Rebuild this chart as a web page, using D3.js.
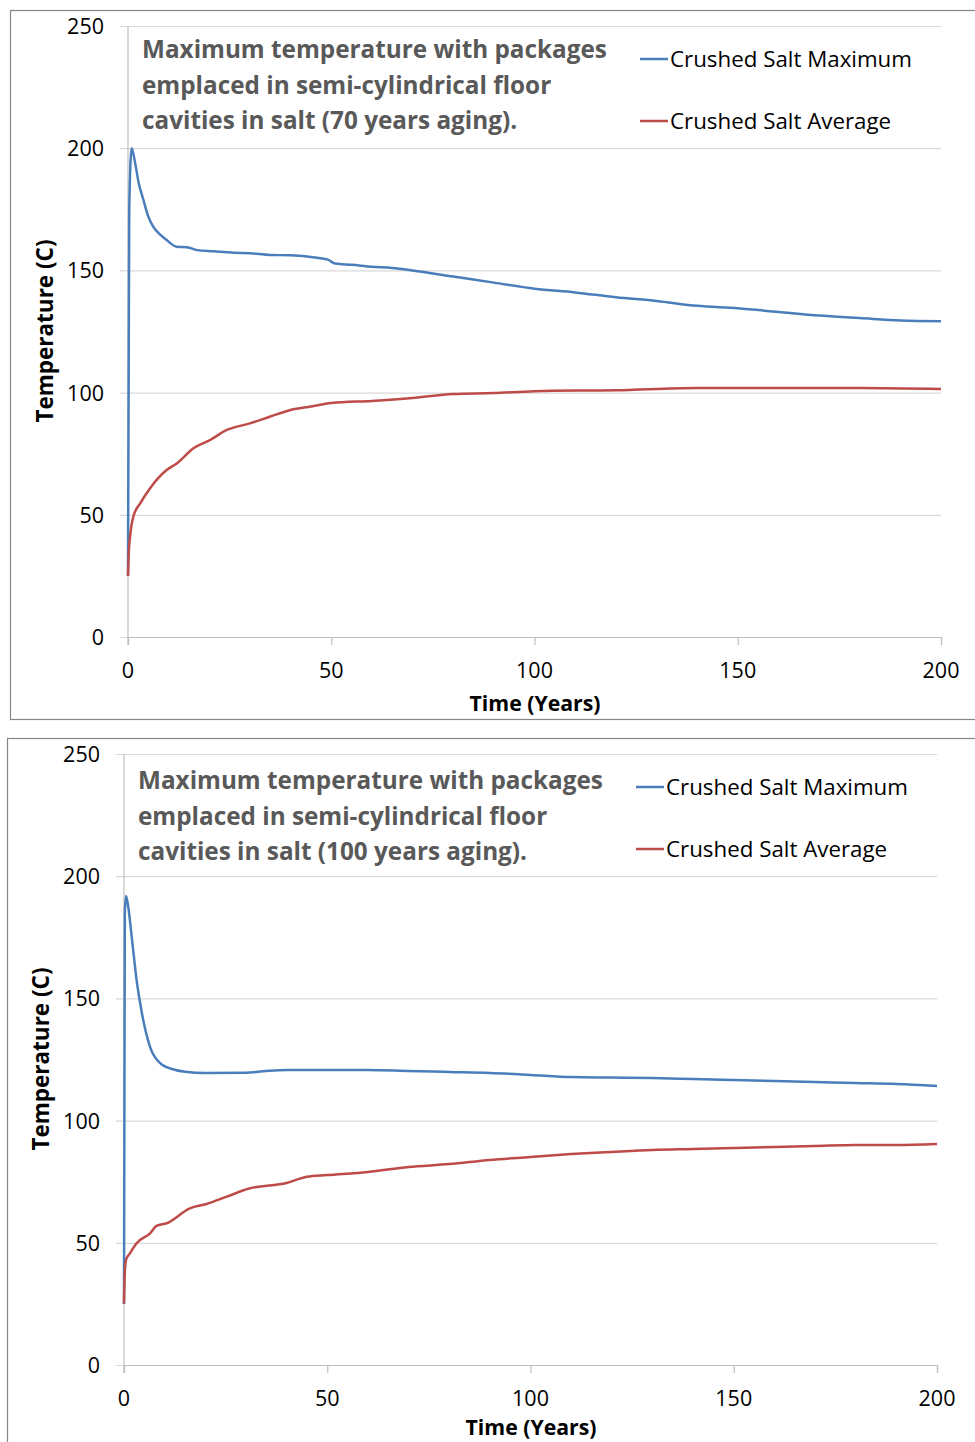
<!DOCTYPE html>
<html>
<head>
<meta charset="utf-8">
<script src="https://cdn.jsdelivr.net/npm/d3@7"></script>
<style>
  html, body { margin: 0; padding: 0; background: #ffffff; }
  svg { display: block; }
</style>
</head>
<body>
<svg id="chart" width="975" height="1442"></svg>
<script>
// ---------- DATA ----------
const yTicks = [0, 50, 100, 150, 200, 250];
const xTicks = [0, 50, 100, 150, 200];
const seriesNames = ["Crushed Salt Maximum", "Crushed Salt Average"];
const xTitle = "Time (Years)";
const yTitle = "Temperature (C)";
const titles = [
  ["Maximum temperature with packages", "emplaced in semi-cylindrical floor", "cavities in salt (70 years aging)."],
  ["Maximum temperature with packages", "emplaced in semi-cylindrical floor", "cavities in salt (100 years aging)."]
];

// 70 years aging
const max70Time = [0, 0.3, 0.9, 1.7, 2.6, 3.8, 5, 6.2, 8, 9.5, 12, 14.5, 17, 21, 26, 30, 35, 40, 45, 49, 51, 55, 60, 65, 70, 80, 90, 100, 110, 120, 130, 140, 150, 160, 170, 180, 190, 200];
const max70Temp = [25, 175, 200, 194.5, 186, 178.8, 172, 167.9, 164.5, 162.4, 159.7, 159.5, 158.3, 157.8, 157.2, 157, 156.3, 156.2, 155.5, 154.5, 152.8, 152.3, 151.5, 151, 150, 147.5, 145, 142.5, 141, 139, 137.5, 135.5, 134.5, 133, 131.5, 130.5, 129.5, 129.2];
const avg70Time = [0, 0.2, 0.5, 1.3, 3, 5.4, 9.5, 12, 16.1, 20.2, 24.3, 30, 35, 40, 45, 50, 60, 70, 80, 90, 100, 120, 140, 160, 180, 200];
const avg70Temp = [25, 35, 41, 49.2, 54.7, 60.8, 68.3, 71, 77.2, 80.6, 84.7, 87.4, 90.2, 92.9, 94.3, 95.7, 96.6, 97.8, 99.4, 99.8, 100.6, 101, 101.9, 101.9, 101.9, 101.5];

// 100 years aging
const max100Time = [0, 0.2, 0.5, 1, 1.9, 3.1, 4.4, 6.4, 8.9, 12, 15, 20, 30, 35, 40, 50, 60, 70, 80, 90, 100, 110, 120, 130, 140, 150, 160, 170, 180, 190, 200];
const max100Temp = [25, 185, 191.9, 188, 175.2, 157.5, 144, 130.2, 123.5, 121, 120, 119.5, 119.6, 120.3, 120.7, 120.7, 120.7, 120.3, 119.9, 119.5, 118.7, 117.8, 117.6, 117.4, 117, 116.6, 116.2, 115.8, 115.4, 115, 114.2];
const avg100Time = [0, 0.2, 0.5, 1.5, 3.1, 6.4, 8, 10.5, 16.2, 20.3, 25.3, 31, 40, 45, 50, 60, 70, 80, 90, 100, 110, 120, 130, 140, 150, 160, 170, 180, 190, 200];
const avg100Temp = [25.2, 38, 43, 45.8, 49.8, 53.9, 56.9, 58, 64.1, 65.9, 68.9, 72.3, 74.5, 77, 77.7, 79, 81, 82.2, 83.9, 85.1, 86.3, 87.2, 88, 88.4, 88.8, 89.2, 89.6, 90, 90, 90.4];

// ---------- DRAW ----------
const svg = d3.select("#chart");
const FONT = "'Open Sans', 'Liberation Sans', sans-serif";
const BLUE = "#4a7ebb";
const RED = "#be4b48";

function fit(sel, width) {
  const node = sel.node();
  const fs = parseFloat(sel.attr("font-size"));
  const w = node.getComputedTextLength();
  sel.attr("font-size", (fs * width / w).toFixed(2));
}

function drawChart(cfg) {
  const g = svg.append("g");
  // frame
  g.append("rect")
    .attr("x", cfg.frame[0] + 0.5).attr("y", cfg.frame[1] + 0.5)
    .attr("width", cfg.frame[2]).attr("height", cfg.frame[3])
    .attr("fill", "#fff").attr("stroke", "#868686").attr("stroke-width", 1.2);

  const x = d3.scaleLinear().domain([0, 200]).range([cfg.x0, cfg.x1]);
  const y = d3.scaleLinear().domain([0, 250]).range([cfg.y0, cfg.y1]);

  // gridlines
  const gy = g.append("g").attr("transform", `translate(${cfg.x1},0)`)
    .call(d3.axisLeft(y).tickValues(yTicks).tickSize(cfg.x1 - cfg.x0 + 8).tickFormat(""));
  gy.select(".domain").remove();
  gy.selectAll(".tick line").attr("stroke", "#d9d9d9").attr("stroke-width", 1.2);

  // y tick labels
  g.selectAll(".ylab").data(yTicks).enter().append("text")
    .attr("x", cfg.yLabX).attr("y", d => y(d) + 8)
    .attr("text-anchor", "end").attr("font-family", FONT).attr("font-size", 21.5)
    .attr("fill", "#000").text(d => d);

  // x axis
  const gx = g.append("g").attr("transform", `translate(0,${cfg.y0})`)
    .call(d3.axisBottom(x).tickValues(xTicks).tickSize(8).tickFormat(""));
  gx.select(".domain").attr("stroke", "#bfbfbf").attr("stroke-width", 1.2);
  gx.selectAll(".tick line").attr("stroke", "#bfbfbf").attr("stroke-width", 1.2);
  g.selectAll(".xlab").data(xTicks).enter().append("text")
    .attr("x", d => x(d)).attr("y", cfg.y0 + 41)
    .attr("text-anchor", "middle").attr("font-family", FONT).attr("font-size", 21.5)
    .attr("fill", "#000").text(d => d);

  // vertical axis line
  g.append("line").attr("x1", x(0)).attr("x2", x(0)).attr("y1", y(250)).attr("y2", y(0) + 8)
    .attr("stroke", "#bfbfbf").attr("stroke-width", 1.2);

  // axis titles
  const xt = g.append("text").attr("x", cfg.xTitleX).attr("y", cfg.y0 + cfg.xTitleDy)
    .attr("text-anchor", "middle").attr("font-family", FONT).attr("font-weight", "bold")
    .attr("font-size", 20).attr("fill", "#000").text(xTitle);
  fit(xt, 131);
  const yt = g.append("text")
    .attr("transform", `translate(${cfg.yTitleX},${cfg.yTitleY}) rotate(-90)`)
    .attr("text-anchor", "middle").attr("font-family", FONT).attr("font-weight", "bold")
    .attr("font-size", 20).attr("fill", "#000").text(yTitle);
  fit(yt, 183);

  // title
  cfg.title.forEach((t, i) => {
    const tt = g.append("text").attr("x", cfg.titleX).attr("y", cfg.titleY + i * 35.5)
      .attr("font-family", FONT).attr("font-weight", "bold").attr("font-size", 24)
      .attr("fill", "#595959").text(t);
    if (i === 0) fit(tt, 465);
    cfg._fs = cfg._fs || parseFloat(tt.attr("font-size"));
    tt.attr("font-size", cfg._fs);
  });

  // lines
  const line = d3.line().x(d => x(d[0])).y(d => y(d[1])).curve(d3.curveMonotoneX);
  const series = [
    { t: cfg.maxT, v: cfg.maxV, c: BLUE },
    { t: cfg.avgT, v: cfg.avgV, c: RED }
  ];
  series.forEach(s => {
    g.append("path").datum(s.t.map((t, i) => [t, s.v[i]]))
      .attr("d", line).attr("fill", "none").attr("stroke", s.c)
      .attr("stroke-width", 2.5).attr("stroke-linejoin", "round");
  });

  // legend
  seriesNames.forEach((n, i) => {
    const ly = cfg.legY + i * 62;
    g.append("line").attr("x1", cfg.legX).attr("x2", cfg.legX + 28)
      .attr("y1", ly).attr("y2", ly).attr("stroke", i === 0 ? BLUE : RED).attr("stroke-width", 2.5);
    const lt = g.append("text").attr("x", cfg.legX + 30).attr("y", ly + 8)
      .attr("font-family", FONT).attr("font-size", 21).attr("fill", "#000").text(n);
    if (i === 0) { fit(lt, 242); cfg._lfs = parseFloat(lt.attr("font-size")); }
    else lt.attr("font-size", cfg._lfs);
  });
}

drawChart({
  frame: [10, 10, 980, 709],
  x0: 128, x1: 941, y0: 637, y1: 26,
  yLabX: 104, xTitleX: 535, xTitleDy: 74, yTitleX: 53, yTitleY: 331,
  titleX: 142, titleY: 58, title: titles[0],
  legX: 640, legY: 59,
  maxT: max70Time, maxV: max70Temp, avgT: avg70Time, avgV: avg70Temp
});

drawChart({
  frame: [7, 738, 980, 720],
  x0: 124, x1: 937, y0: 1365, y1: 754,
  yLabX: 100, xTitleX: 531, xTitleDy: 70, yTitleX: 49, yTitleY: 1059,
  titleX: 138, titleY: 789, title: titles[1],
  legX: 636, legY: 787,
  maxT: max100Time, maxV: max100Temp, avgT: avg100Time, avgV: avg100Temp
});
</script>
</body>
</html>
